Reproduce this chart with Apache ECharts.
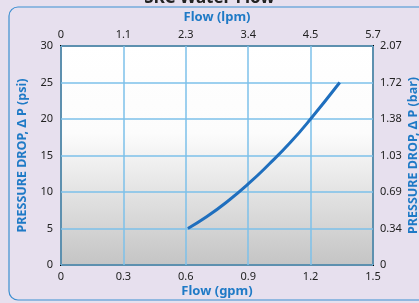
<!DOCTYPE html>
<html>
<head>
<meta charset="utf-8">
<script src="https://cdn.jsdelivr.net/npm/echarts@6/dist/echarts.min.js"></script>
<style>
  html, body { margin: 0; padding: 0; background: #e7e0ee; }
  #chart { width: 419px; height: 303px; }
</style>
</head>
<body>
<div id="chart"></div>
<script>
// flow in gpm vs pressure drop in psi
var flowGpm = [0.61, 0.7, 0.8, 0.9, 1.0, 1.1, 1.2, 1.34]
var dropPsi = [5, 6.6, 8.7, 11.1, 13.8, 16.7, 20, 25]
var lpmLabels = ['0', '1.1', '2.3', '3.4', '4.5', '5.7']
var barLabels = ['0', '0.34', '0.69', '1.03', '1.38', '1.72', '2.07']

var blue = '#1f7ac6'
var font = 'Noto Sans'

let myChart = echarts.init(document.getElementById('chart'))
var option = {
  backgroundColor: '#e7e0ee',
  animation: false,
  graphic: [
    {
      type: 'rect',
      shape: { x: 9, y: 7, width: 430, height: 293, r: 9 },
      style: { fill: 'none', stroke: '#3d8fd1', lineWidth: 1.2 },
      z: -1
    },
    {
      type: 'text',
      left: 'center',
      top: -10,
      style: { text: 'SKC Water Flow', font: 'bold 17px "Noto Sans"', fill: '#222' }
    }
  ],
  grid: {
    left: 61, right: 46, top: 46, bottom: 38,
    outerBoundsMode: 'none',
    containLabel: false,
    show: true,
    borderColor: '#000',
    borderWidth: 2,
    backgroundColor: new echarts.graphic.LinearGradient(0, 0, 0, 1, [
      { offset: 0, color: '#ffffff' },
      { offset: 0.4, color: '#fcfcfc' },
      { offset: 1, color: '#c4c4c4' }
    ])
  },
  xAxis: [
    {
      type: 'value', position: 'bottom', min: 0, max: 1.5, interval: 0.3,
      name: 'Flow (gpm)', nameLocation: 'middle', nameGap: 20, nameMoveOverlap: false,
      nameTextStyle: { color: blue, fontSize: 13, fontWeight: 'bold', fontFamily: font },
      axisLine: { show: false }, axisTick: { show: false },
      axisLabel: { color: '#222', fontSize: 11, fontFamily: font, margin: 6,
        formatter: function (v) { return String(+v.toFixed(1)) } },
      splitLine: { show: true, lineStyle: { color: '#7cc0ea', width: 1.5 } }
    },
    {
      type: 'value', position: 'top', min: 0, max: 1.5, interval: 0.3,
      name: 'Flow (lpm)', nameLocation: 'middle', nameGap: 22, nameMoveOverlap: false,
      nameTextStyle: { color: blue, fontSize: 13, fontWeight: 'bold', fontFamily: font },
      axisLine: { show: false }, axisTick: { show: false },
      axisLabel: { color: '#222', fontSize: 11, fontFamily: font, margin: 6,
        formatter: function (v) { return lpmLabels[Math.round(v / 0.3)] } },
      splitLine: { show: false }
    }
  ],
  yAxis: [
    {
      type: 'value', position: 'left', min: 0, max: 30, interval: 5,
      name: 'PRESSURE DROP, Δ P (psi)', nameLocation: 'middle', nameGap: 32, nameMoveOverlap: false,
      nameTextStyle: { color: blue, fontSize: 12.5, fontWeight: 'bold', fontFamily: font },
      axisLine: { show: false }, axisTick: { show: false },
      axisLabel: { color: '#222', fontSize: 11, fontFamily: font, margin: 8 },
      splitLine: { show: true, lineStyle: { color: '#7cc0ea', width: 1.5 } }
    },
    {
      type: 'value', position: 'right', min: 0, max: 30, interval: 5,
      name: 'PRESSURE DROP, Δ P (bar)', nameLocation: 'middle', nameGap: 34, nameMoveOverlap: false,
      nameRotate: 90,
      nameTextStyle: { color: blue, fontSize: 12.5, fontWeight: 'bold', fontFamily: font },
      axisLine: { show: false }, axisTick: { show: false },
      axisLabel: { color: '#222', fontSize: 11, fontFamily: font, margin: 7,
        formatter: function (v) { return barLabels[Math.round(v / 5)] } },
      splitLine: { show: false }
    }
  ],
  series: [
    {
      type: 'line',
      data: flowGpm.map(function (x, i) { return [x, dropPsi[i]] }),
      smooth: true,
      showSymbol: false,
      lineStyle: { color: '#1f6fbe', width: 3 }
    }
  ]
}
myChart.setOption(option)
</script>
</body>
</html>
